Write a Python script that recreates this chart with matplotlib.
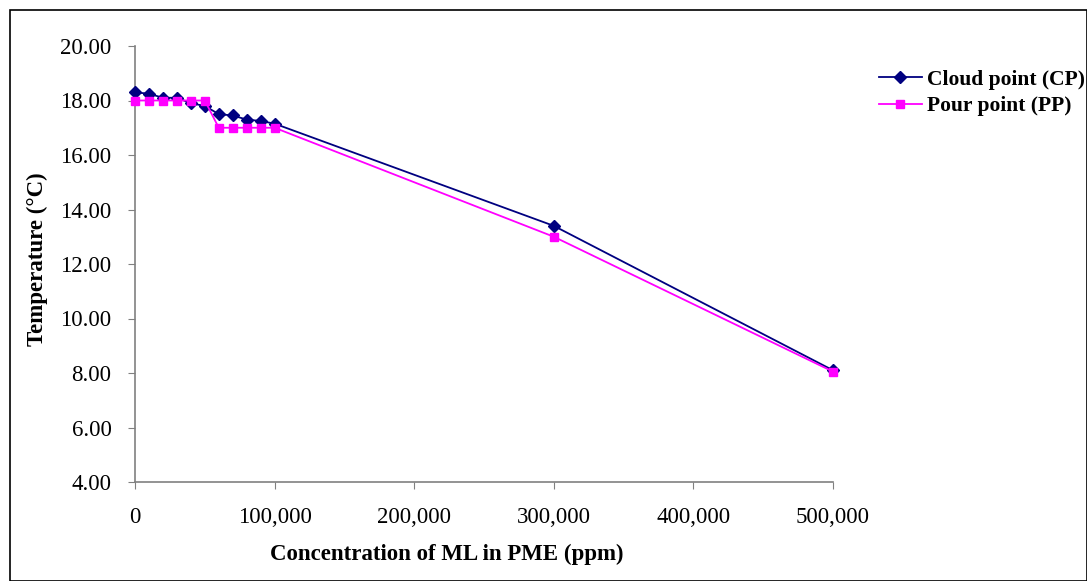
import matplotlib
matplotlib.use("Agg")
from matplotlib import pyplot as plt
from matplotlib.ticker import FuncFormatter, MultipleLocator
from matplotlib.patches import Rectangle

# concentration of ML in PME (ppm)
conc = [0, 10000, 20000, 30000, 40000, 50000, 60000, 70000, 80000, 90000, 100000, 300000, 500000]
cloud_point = [18.3, 18.25, 18.1, 18.1, 17.9, 17.8, 17.5, 17.45, 17.3, 17.25, 17.15, 13.4, 8.1]
pour_point = [18.0, 18.0, 18.0, 18.0, 18.0, 18.0, 17.0, 17.0, 17.0, 17.0, 17.0, 13.0, 8.05]

plt.rcParams['font.family'] = ['Liberation Serif', 'DejaVu Serif']

fig = plt.figure(figsize=(10.87, 5.81), dpi=100)
ax = fig.add_axes([135 / 1087, 1 - 482 / 581, (833 - 135) / 1087, (482 - 46) / 581])

ax.plot(conc, cloud_point, color='#000080', lw=1.3, marker='D', ms=6.5,
        label='Cloud point (CP)', zorder=3)
ax.plot(conc, pour_point, color='#FF00FF', lw=1.3, marker='s', ms=6,
        label='Pour point (PP)', zorder=3)

ax.set_xlim(0, 500000)
ax.set_ylim(4, 20)
ax.yaxis.set_major_locator(MultipleLocator(2))
ax.xaxis.set_major_locator(MultipleLocator(100000))
ax.yaxis.set_major_formatter(FuncFormatter(lambda v, p: f"{v:.2f}"))
ax.xaxis.set_major_formatter(FuncFormatter(lambda v, p: f"{int(v):,}"))

for s in ['top', 'right']:
    ax.spines[s].set_visible(False)
for s in ['left', 'bottom']:
    ax.spines[s].set_color('#808080')
    ax.spines[s].set_linewidth(1.2)
ax.tick_params(axis='both', direction='out', length=5, color='#808080', labelsize=16.5)
ax.tick_params(axis='y', pad=12)
ax.tick_params(axis='x', pad=13)
for line in ax.lines:
    line.set_clip_on(False)

ax.set_xlabel('Concentration of ML in PME (ppm)', fontsize=16.5, fontweight='bold')
ax.set_ylabel('Temperature (°C)', fontsize=16.5, fontweight='bold')
ax.xaxis.set_label_coords((447 - 135) / 698, (482 - 544) / 436)
ax.yaxis.set_label_coords((48 - 135) / 698, 0.51)

fig.legend(loc='upper left', bbox_to_anchor=(870 / 1087, 1 - 61 / 581), frameon=False,
           prop={'weight': 'bold', 'size': 15.5}, handlelength=2.0, handletextpad=0.25,
           labelspacing=0.3, borderaxespad=0)

# outer chart border
fig.patches.append(Rectangle((10 / 1087, 0), 1 - 10 / 1087, 1 - 10 / 581,
                             transform=fig.transFigure, fill=False,
                             edgecolor='black', lw=1.2))

fig.savefig('out.png', dpi=100)
